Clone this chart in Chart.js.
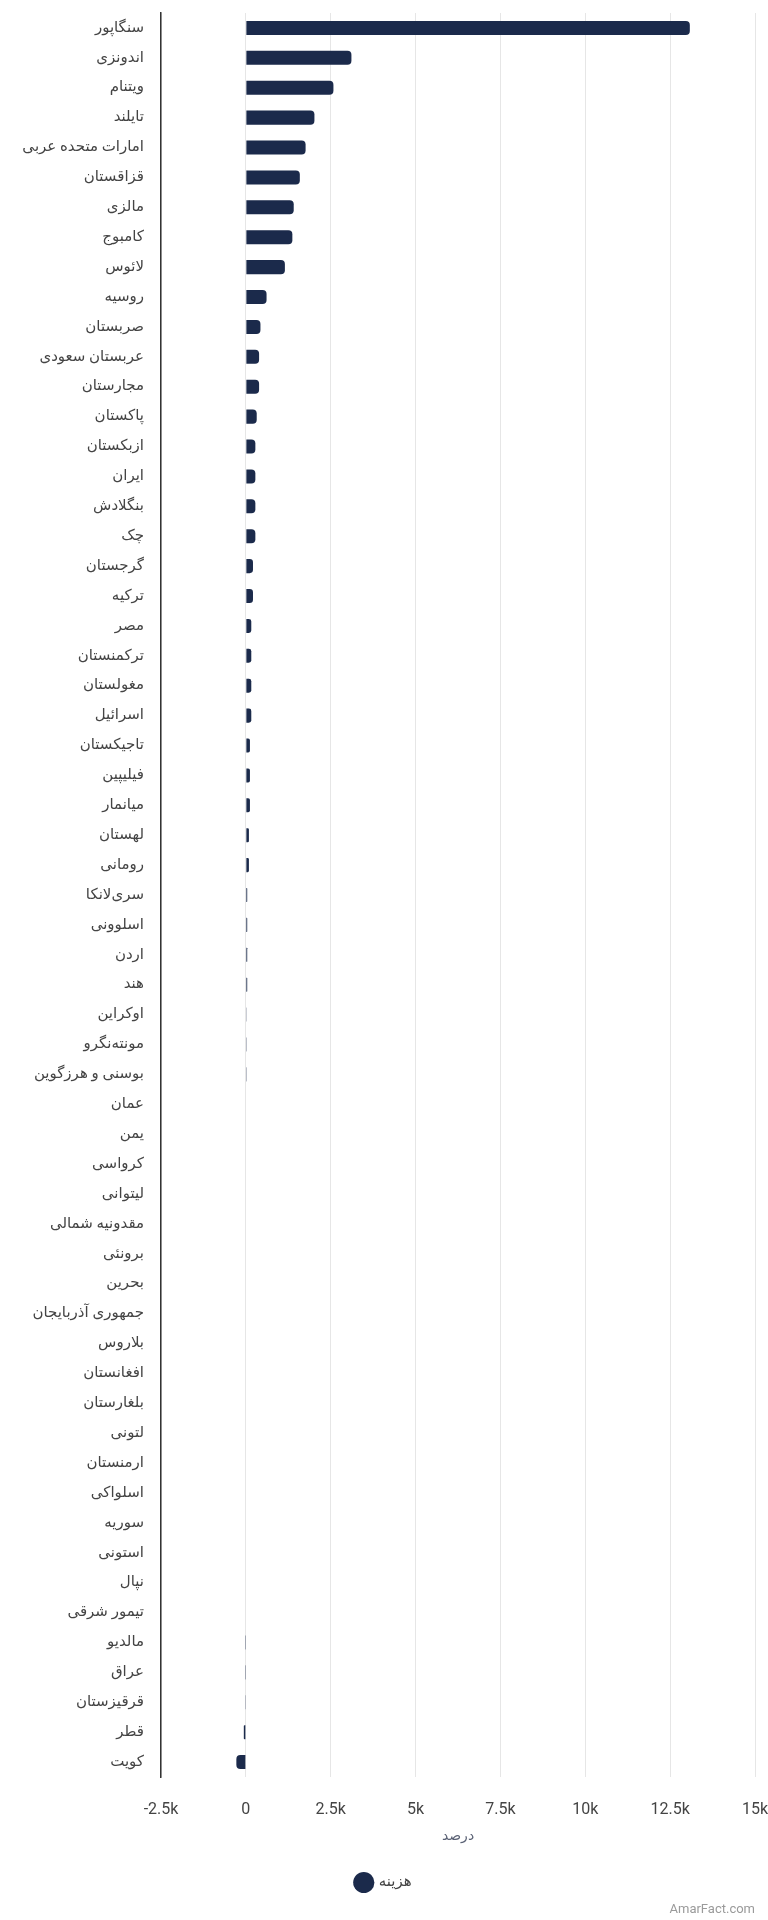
<!DOCTYPE html>
<html>
<head>
<meta charset="utf-8">
<script src="https://cdn.jsdelivr.net/npm/chart.js@4/dist/chart.umd.min.js"></script>
<style>
  html, body { margin: 0; padding: 0; background: #fff; }
  #wrap { position: relative; width: 768px; height: 1920px; }
</style>
</head>
<body>
<div id="wrap"><canvas id="chart"></canvas></div>
<script>
// categories (countries), top to bottom
const countries = [
    'سنگاپور', 'اندونزی', 'ویتنام', 'تایلند', 'امارات متحده عربی', 'قزاقستان', 'مالزی', 'کامبوج',
    'لائوس', 'روسیه', 'صربستان', 'عربستان سعودی', 'مجارستان', 'پاکستان', 'ازبکستان', 'ایران',
    'بنگلادش', 'چک', 'گرجستان', 'ترکیه', 'مصر', 'ترکمنستان', 'مغولستان', 'اسرائیل',
    'تاجیکستان', 'فیلیپین', 'میانمار', 'لهستان', 'رومانی', 'سری‌لانکا', 'اسلوونی', 'اردن',
    'هند', 'اوکراین', 'مونته‌نگرو', 'بوسنی و هرزگوین', 'عمان', 'یمن', 'کرواسی', 'لیتوانی',
    'مقدونیه شمالی', 'برونئی', 'بحرین', 'جمهوری آذربایجان', 'بلاروس', 'افغانستان', 'بلغارستان', 'لتونی',
    'ارمنستان', 'اسلواکی', 'سوریه', 'استونی', 'نپال', 'تیمور شرقی', 'مالدیو', 'عراق',
    'قرقیزستان', 'قطر', 'کویت'
];

// series values (هزینه)
const costs = [
    13080, 3110, 2580, 2020, 1760, 1590, 1410, 1370,
    1150, 610, 430, 390, 390, 320, 280, 280,
    280, 280, 210, 210, 160, 160, 160, 160,
    120, 120, 120, 90, 90, 40, 40, 40,
    40, 8, 6, 6, 0, 0, 0, 0,
    0, 0, 0, 0, 0, 0, 0, 0,
    0, 0, 0, 0, 0, 0, -5, -5,
    -8, -60, -280
];

// x axis ticks
const xTicks = [-2500, 0, 2500, 5000, 7500, 10000, 12500, 15000];
const xTickLabels = ['-2.5k', '0', '2.5k', '5k', '7.5k', '10k', '12.5k', '15k'];

const seriesName = 'هزینه';
const axisTitle = 'درصد';
const barColor = '#1b2a4b';
const fontFamily = "Roboto, 'DejaVu Sans', sans-serif";

// small watermark in the bottom right corner
const watermark = {
    id: 'watermark',
    afterDraw(chart) {
        const ctx = chart.ctx;
        ctx.save();
        ctx.font = '13px ' + fontFamily;
        ctx.fillStyle = '#9a9a9a';
        ctx.textAlign = 'right';
        ctx.textBaseline = 'middle';
        ctx.fillText('AmarFact.com', 755, 1910);
        ctx.restore();
    }
};

new Chart(document.getElementById('chart'), {
    type: 'bar',
    data: {
        labels: countries,
        datasets: [{
            label: seriesName,
            data: costs,
            backgroundColor: barColor,
            borderColor: barColor,
            borderWidth: 0,
            borderRadius: 4,
            categoryPercentage: 0.5,
            barPercentage: 0.94
        }]
    },
    options: {
        indexAxis: 'y',
        responsive: true,
        maintainAspectRatio: false,
        animation: false,
        layout: { padding: { top: 13, right: 0, bottom: 20, left: 0 } },
        plugins: {
            tooltip: { enabled: false },
            legend: {
                position: 'bottom',
                labels: {
                    usePointStyle: true,
                    pointStyle: 'circle',
                    boxWidth: 15,
                    boxHeight: 15,
                    padding: 10,
                    color: '#444',
                    font: { family: fontFamily, size: 15 }
                }
            }
        },
        scales: {
            x: {
                min: -2500,
                max: 15000,
                afterBuildTicks: s => { s.ticks = xTicks.map(v => ({ value: v })); },
                afterFit: s => { s.height = 88; s.paddingRight = 13; },
                ticks: {
                    callback: (v, i) => xTickLabels[i],
                    color: '#444',
                    padding: 23,
                    maxRotation: 0,
                    font: { family: fontFamily, size: 16 }
                },
                grid: { color: '#e6e6e6', lineWidth: 1, drawTicks: false },
                border: { display: false },
                title: {
                    display: true,
                    text: axisTitle,
                    color: '#5b6275',
                    padding: { top: 8, bottom: 20 },
                    font: { family: fontFamily, size: 14 }
                }
            },
            y: {
                afterFit: s => { s.width = 161; s.paddingTop = 0; s.paddingBottom = 0; },
                ticks: {
                    color: '#444',
                    padding: 17,
                    autoSkip: false,
                    font: { family: fontFamily, size: 15 }
                },
                grid: { display: false, drawTicks: false },
                border: { display: true, color: '#333', width: 1.5 }
            }
        }
    },
    plugins: [watermark]
});
</script>
</body>
</html>
